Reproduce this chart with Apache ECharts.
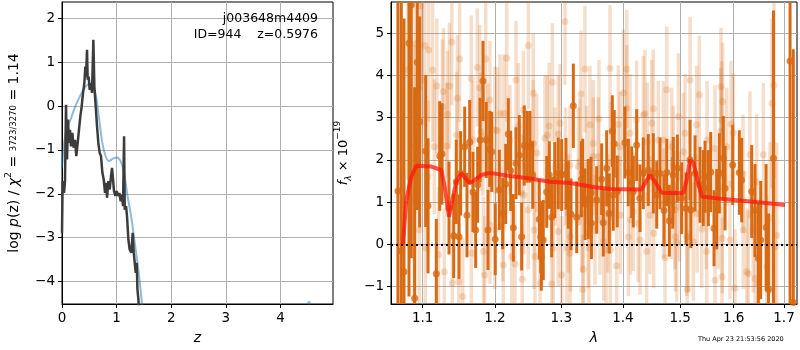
<!DOCTYPE html>
<html>
<head>
<meta charset="utf-8">
<script src="https://cdn.jsdelivr.net/npm/echarts@6/dist/echarts.min.js"></script>
<style>
  html, body { margin: 0; padding: 0; background: #fff; }
  #chart { width: 800px; height: 350px; }
</style>
</head>
<body>
<div id="chart"></div>
<script>
// ---- left panel: log p(z) ----
const zTicks = [0, 1, 2, 3, 4];
const logpTicks = [-4, -3, -2, -1, 0, 1, 2];
const pzZ = [0, 0.012, 0.037, 0.055, 0.073, 0.092, 0.11, 0.128, 0.147, 0.165,
  0.189, 0.214, 0.238, 0.262, 0.287, 0.311, 0.336, 0.36, 0.385, 0.409,
  0.427, 0.44, 0.458, 0.47, 0.488, 0.507, 0.525, 0.549, 0.574, 0.592,
  0.617, 0.641, 0.665, 0.69, 0.714, 0.739, 0.763, 0.788, 0.806, 0.824,
  0.849, 0.873, 0.897, 0.916, 0.934, 0.952, 0.977, 1.001, 1.026, 1.05,
  1.074, 1.099, 1.117, 1.136, 1.148, 1.172, 1.19, 1.215, 1.239, 1.27,
  1.294, 1.313, 1.331, 1.349, 1.368, 1.38, 1.398, 1.41];
const pzLog = [-2.89, -1.71, -1.98, -1.71, 0.03, -1.22, -0.31, -0.84, -0.54, -0.92,
  -0.61, -0.95, -0.77, -1.14, -0.84, -0.54, -0.23, -0.01, 0.30, 0.52,
  0.90, 0.67, 1.28, 0.60, 0.67, 0.37, 0.52, 0.30, 1.51, 0.45,
  -0.01, -0.46, -0.84, -1.07, -1.14, -1.52, -1.67, -1.98, -1.75, -2.09,
  -1.71, -1.90, -1.60, -1.41, -1.67, -1.94, -2.05, -1.94, -2.05, -1.98,
  -2.17, -2.02, -2.28, -0.69, -2.36, -2.28, -2.51, -3.04, -3.27, -3.34,
  -2.89, -3.34, -3.57, -3.80, -3.57, -4.17, -4.40, -4.63];
const smoothZ = [0.0, 0.04, 0.08, 0.16, 0.23, 0.30, 0.37, 0.43, 0.50, 0.56, 0.62, 0.68,
  0.74, 0.80, 0.86, 0.93, 1.00, 1.07, 1.13, 1.20, 1.27, 1.33, 1.40, 1.46, 1.49];
const smoothLog = [-1.40, -0.85, -0.55, -0.30, -0.05, 0.15, 0.32, 0.44, 0.50, 0.46, 0.25, -0.30,
  -0.85, -1.15, -1.25, -1.20, -1.17, -1.25, -1.50, -2.05, -2.55, -3.10, -3.75, -4.45, -4.75];
const tailZ = [4.52];
const tailLog = [-4.48];

// ---- right panel: spectrum ----
const lamTicks = [1.1, 1.2, 1.3, 1.4, 1.5, 1.6, 1.7];
const fluxTicks = [-1, 0, 1, 2, 3, 4, 5];
const darkLam = [1.0677, 1.0720, 1.0755, 1.0820, 1.0850, 1.0894, 1.0929, 1.0960, 1.1040, 1.1071,
  1.1182, 1.1228, 1.1259, 1.1354, 1.1419, 1.1454, 1.1492, 1.1515, 1.1571, 1.1603,
  1.1641, 1.1687, 1.1725, 1.1829, 1.1876, 1.1900, 1.1925, 1.1954, 1.2005, 1.2064,
  1.2113, 1.2157, 1.2195, 1.2230, 1.2269, 1.2309, 1.2358, 1.2393, 1.2432, 1.2477,
  1.2518, 1.2559, 1.2659, 1.2681, 1.2690, 1.2720, 1.2773, 1.2813, 1.2850, 1.2952,
  1.3073, 1.3109, 1.3152, 1.3189, 1.3243, 1.3339, 1.3376, 1.3429, 1.3473, 1.3565,
  1.3647, 1.3674, 1.3773, 1.3823, 1.3856, 1.3906, 1.4036, 1.4092, 1.4150, 1.4177,
  1.4235, 1.4292, 1.4349, 1.4436, 1.4523, 1.4583, 1.4641, 1.4712, 1.4760, 1.4806,
  1.4867, 1.4950, 1.5107, 1.5180, 1.5272, 1.5364, 1.5425, 1.5563, 1.5625, 1.5676,
  1.5725, 1.5801, 1.5981, 1.6109, 1.6155, 1.6351, 1.6416, 1.6482, 1.6529, 1.6637,
  1.6684, 1.6785, 1.7124, 1.7191,
  1.1753, 1.1787, 1.2897, 1.3005, 1.3318, 1.3480, 1.3730, 1.3839, 1.4877, 1.5028,
  1.5195, 1.5457, 1.5519, 1.5834];
const darkFlux = [1.26, -0.16, -0.65, 4.76, 5.67, -1.28, 4.31, 2.90, 2.21, 0.91,
  -0.70, 2.09, 2.14, 0.86, 0.20, 1.48, 0.18, 1.68, 2.31, 0.69,
  2.42, 1.24, 0.34, 3.87, 2.47, 0.34, 2.26, 2.19, 0.12, 1.29,
  0.73, 1.43, 2.61, 1.74, 0.39, 1.92, 2.11, 0.18, 2.34, 2.31,
  2.31, 1.64, 0.59, 0.17, -0.30, 0.10, 1.24, 1.64, 0.64, 1.68,
  1.67, 1.17, 0.71, 3.28, 0.64, 1.70, 0.95, 1.07, 1.22, 1.05,
  1.54, 0.51, 0.73, 2.68, 2.38, 1.25, 2.41, 1.70, 1.47, 1.25,
  2.35, 1.09, 1.68, 1.76, 1.68, 1.17, 1.68, 0.80, 1.70, 0.56,
  1.22, 1.80, 0.85, 2.00, 1.68, 1.41, 1.33, 1.71, 0.38, 0.83,
  1.68, 2.04, 1.88, 1.70, 1.52, 1.25, 0.80, -0.33, 0.10, 0.40,
  -1.07, 2.04, 4.34, -1.38,
  1.41, 2.47, 1.52, 1.64, 1.54, 0.50, 1.80, 1.17, 1.64, 1.09,
  0.81, 1.60, 1.33, 1.33];
const darkErr = [6, 6, 6, 6, 6, 5, 3.5, 2.5, 1.8, 1.6,
  1.3, 1.3, 1.2, 1.1, 1.0, 1.0, 1.0, 1.0, 0.95, 1.0,
  1.0, 0.95, 0.9, 0.95, 0.9, 0.95, 0.9, 0.95, 0.85, 0.95,
  0.85, 0.95, 0.85, 0.95, 0.8, 0.85, 0.95, 0.8, 0.95, 0.85,
  0.85, 0.8, 0.95, 0.85, 0.8, 0.95, 0.85, 0.8, 0.95, 0.85,
  0.85, 0.8, 0.85, 1.0, 0.85, 0.8, 0.85, 0.95, 0.85, 0.8,
  0.85, 0.8, 0.95, 0.85, 0.8, 0.85, 0.85, 0.8, 0.85, 0.85,
  0.85, 0.8, 0.85, 0.85, 0.95, 0.8, 0.85, 0.85, 0.8, 0.85,
  0.85, 0.8, 0.85, 0.95, 0.9, 0.9, 0.9, 0.95, 0.9, 0.95,
  0.95, 1.0, 0.95, 1.0, 1.0, 1.1, 1.1, 1.3, 1.4, 1.5,
  1.8, 3.5, 6, 6,
  0.9, 1.0, 0.9, 0.85, 0.9, 0.85, 0.9, 0.85, 0.9, 0.85,
  0.9, 0.85, 0.9, 1.0];
const lightLam = [1.0807, 1.0890, 1.0894, 1.0903, 1.0955, 1.0970, 1.0992, 1.1027, 1.1035, 1.1071,
  1.1079, 1.1132, 1.1155, 1.1189, 1.1212, 1.1265, 1.1279, 1.1290, 1.1324, 1.1333,
  1.1360, 1.1393, 1.1400, 1.1460, 1.1470, 1.1489, 1.1500, 1.1543, 1.1663, 1.1687,
  1.1748, 1.1782, 1.1800, 1.1854, 1.1868, 1.1900, 1.1929, 1.2001, 1.2034, 1.2074,
  1.2122, 1.2171, 1.2220, 1.2294, 1.2309, 1.2343, 1.2393, 1.2402, 1.2418, 1.2493,
  1.2568, 1.2580, 1.2670, 1.2781, 1.2810, 1.2849, 1.2860, 1.2874, 1.2901, 1.2952,
  1.3005, 1.3057, 1.3065, 1.3083, 1.3109, 1.3136, 1.3269, 1.3311, 1.3339, 1.3349,
  1.3375, 1.3456, 1.3509, 1.3603, 1.3619, 1.3680, 1.3720, 1.3750, 1.3785, 1.3800,
  1.3896, 1.3924, 1.3952, 1.3960, 1.4010, 1.4066, 1.4093, 1.4121, 1.4130, 1.4234,
  1.4260, 1.4377, 1.4407, 1.4418, 1.4523, 1.4530, 1.4610, 1.4729, 1.4759, 1.4840,
  1.4877, 1.4938, 1.4990, 1.5057, 1.5120, 1.5130, 1.5180, 1.5241, 1.5302, 1.5351,
  1.5395, 1.5488, 1.5495, 1.5644, 1.5751, 1.5757, 1.5776, 1.5788, 1.5929, 1.5949,
  1.5993, 1.6025, 1.6180, 1.6185, 1.6253, 1.6284, 1.6317, 1.6382, 1.6418, 1.6449,
  1.6481, 1.6582, 1.6649, 1.6715, 1.6755, 1.6796, 1.6816, 1.6851,
  1.1665, 1.1829, 1.1835, 1.1929, 1.2001, 1.2115, 1.2130, 1.2245, 1.2425, 1.2492,
  1.2568, 1.2594, 1.2620, 1.2746, 1.2952, 1.2979, 1.3136, 1.3145, 1.3295, 1.3322,
  1.3403, 1.3429, 1.3440, 1.3510, 1.3537, 1.3591, 1.3790, 1.4065, 1.4178, 1.4292,
  1.4349, 1.4465, 1.4495, 1.4700, 1.4705, 1.4849, 1.4908, 1.4915, 1.4968, 1.5089,
  1.5150, 1.5310, 1.5480, 1.5644, 1.5707, 1.5770, 1.5780, 1.5866];
const lightFlux = [4.13, 1.07, 2.31, 4.75, 0.34, 5.65, 3.89, 4.71, -0.09, 1.60,
  4.60, 4.13, 2.31, 3.75, -0.25, 3.25, 3.62, -0.65, 2.33, 3.08,
  3.75, 4.79, -0.92, 2.59, 3.46, -0.89, 4.39, -1.24, 3.92, 2.47,
  4.19, 3.70, 2.67, -0.73, 4.39, 2.51, 3.42, 0.34, 2.69, 3.10,
  -0.49, 4.41, 2.47, -0.47, 3.89, 2.79, 1.21, -0.83, 3.18, 4.71,
  3.58, 0.34, -0.92, 2.59, 2.80, -0.94, 3.84, -0.09, 1.84, 2.61,
  -0.73, 5.28, 1.84, -0.08, 0.73, -0.21, 1.84, 3.56, -1.07, -0.59,
  4.15, 2.83, 2.08, 2.97, 0.58, 0.06, -0.13, 0.73, 4.17, 1.96,
  -0.51, 2.84, 2.31, 0.69, 3.59, 4.15, 0.17, 2.63, 0.58, 2.95,
  0.50, 3.10, -0.17, 2.43, 3.21, 0.26, 2.47, -0.32, 3.66, 1.05,
  1.88, 0.04, 0.89, 2.19, 0.17, -1.07, 3.89, 0.06, 2.83, 3.54,
  0.36, -0.17, 2.47, -0.85, 2.68, 3.73, -0.77, 3.38, 0.10, 2.85,
  2.64, -1.04, 1.67, 0.34, -0.65, -0.70, 2.12, 0.36, -0.81, 1.48,
  -0.94, 2.12, -0.53, 0.62, 3.34, 3.77, -0.06, 0.21,
  -0.21, 2.55, -0.17, 0.46, 2.71, 0.42, 3.10, -0.29, 1.17, 0.81,
  2.39, -0.29, 2.16, 2.51, 0.30, 2.87, 1.88, 0.18, 1.96, 0.73,
  1.88, 0.26, -0.09, 2.39, 0.34, 2.08, -0.13, 3.22, 0.77, 0.10,
  3.06, 0.69, 2.87, 2.47, 0.97, 2.31, 0.81, 0.18, 3.02, 2.63,
  0.18, 0.73, 0.81, 2.27, 0.81, 2.94, 0.14, 2.31];
const lightErr = [2.6, 2.6, 2.4, 2.2, 2.2, 2.0, 2.0, 1.9, 1.9, 1.8,
  1.7, 1.7, 1.6, 1.6, 1.6, 1.6, 1.5, 1.5, 1.5, 1.5,
  1.5, 1.5, 1.5, 1.5, 1.5, 1.4, 1.5, 1.4, 1.5, 1.4,
  1.4, 1.5, 1.4, 1.4, 1.5, 1.3, 1.4, 1.4, 1.5, 1.4,
  1.4, 1.5, 1.3, 1.4, 1.4, 1.5, 1.4, 1.3, 1.4, 1.5,
  1.4, 1.4, 1.3, 1.4, 1.5, 1.4, 1.4, 1.3, 1.4, 1.4,
  1.4, 1.5, 1.4, 1.3, 1.4, 1.4, 1.4, 1.5, 1.3, 1.4,
  1.5, 1.4, 1.4, 1.4, 1.3, 1.4, 1.4, 1.4, 1.5, 1.4,
  1.4, 1.4, 1.3, 1.4, 1.5, 1.4, 1.4, 1.4, 1.3, 1.4,
  1.4, 1.5, 1.4, 1.4, 1.4, 1.3, 1.4, 1.4, 1.5, 1.4,
  1.4, 1.4, 1.3, 1.4, 1.4, 1.4, 1.5, 1.4, 1.4, 1.4,
  1.4, 1.4, 1.4, 1.4, 1.5, 1.4, 1.4, 1.4, 1.4, 1.5,
  1.4, 1.4, 1.4, 1.4, 1.5, 1.5, 1.5, 1.5, 1.5, 1.6,
  1.6, 1.7, 1.7, 1.8, 2.0, 2.2, 2.0, 2.2,
  1.5, 1.4, 1.3, 1.4, 1.5, 1.3, 1.4, 1.3, 1.4, 1.4,
  1.5, 1.3, 1.4, 1.5, 1.3, 1.4, 1.4, 1.3, 1.5, 1.4,
  1.4, 1.3, 1.4, 1.5, 1.3, 1.4, 1.3, 1.5, 1.4, 1.3,
  1.4, 1.4, 1.5, 1.4, 1.3, 1.4, 1.4, 1.3, 1.5, 1.4,
  1.3, 1.4, 1.4, 1.5, 1.4, 1.4, 1.3, 1.4];
const modelLam = [1.0742, 1.0785, 1.0850, 1.0916, 1.1115, 1.1249, 1.1295, 1.1354, 1.1409, 1.1454,
  1.1524, 1.1641, 1.1711, 1.1805, 1.1900, 1.1972, 1.2220, 1.2518, 1.2823, 1.3136,
  1.3538, 1.3785, 1.4321, 1.4408, 1.4465, 1.4553, 1.4671, 1.5058, 1.5120, 1.5179,
  1.5240, 1.5395, 1.5801, 1.6382, 1.7020];
const modelFlux = [0.0, 1.05, 1.60, 1.86, 1.84, 1.76, 1.37, 0.65, 1.13, 1.48,
  1.68, 1.45, 1.52, 1.64, 1.68, 1.68, 1.62, 1.56, 1.48, 1.45,
  1.35, 1.31, 1.30, 1.52, 1.64, 1.48, 1.22, 1.21, 1.52, 2.0,
  1.92, 1.13, 1.07, 1.01, 0.93];

const FONT = "DejaVu Sans";
const ORANGE = "rgb(216,106,20)";
const ln = Math.log;
const minus = v => String(v).replace("-", "\u2212");

// the wavelength axis is logarithmic: plot ln(lambda)
const darkBars = darkLam.map((l, i) => [ln(l), darkFlux[i] - darkErr[i], darkFlux[i] + darkErr[i]]);
const darkPts = darkLam.map((l, i) => [ln(l), darkFlux[i]]);
const lightBars = lightLam.map((l, i) => [ln(l), lightFlux[i] - lightErr[i], lightFlux[i] + lightErr[i]]);
const lightPts = lightLam.map((l, i) => [ln(l), lightFlux[i]]);
const model = modelLam.map((l, i) => [ln(l), modelFlux[i]]);

function errBar(color, w) {
  return function (params, api) {
    const top = api.coord([api.value(0), api.value(2)]);
    const bot = api.coord([api.value(0), api.value(1)]);
    return {
      type: "rect",
      shape: { x: top[0] - w / 2, y: top[1], width: w, height: bot[1] - top[1] },
      style: { fill: color }
    };
  };
}

const gridLine = { show: true, lineStyle: { color: "#b0b0b0", width: 1 } };
const tickStyle = { show: true, length: 4, lineStyle: { color: "#000" } };
const labelStyle = { color: "#000", fontSize: 13.5, fontFamily: FONT };

const chart = echarts.init(document.getElementById("chart"), null, { renderer: "canvas" });
chart.setOption({
  animation: false,
  textStyle: { fontFamily: FONT },
  title: [
    { text: "j003648m4409", right: 482, top: 12, padding: 0,
      textStyle: { fontSize: 12.5, fontWeight: "normal", color: "#000", fontFamily: FONT } },
    { text: "ID=944    z=0.5976", right: 482, top: 28, padding: 0,
      textStyle: { fontSize: 12.5, fontWeight: "normal", color: "#000", fontFamily: FONT } },
    { text: "Thu Apr 23 21:53:56 2020", left: 698, top: 336, padding: 0,
      textStyle: { fontSize: 6.5, fontWeight: "normal", color: "#000", fontFamily: FONT } }
  ],
  grid: [
    { left: 62, top: 2, width: 271, height: 302, show: true, borderColor: "#000", borderWidth: 1 },
    { left: 391, top: 2, width: 406, height: 302, show: true, borderColor: "#000", borderWidth: 1 }
  ],
  xAxis: [
    {
      gridIndex: 0, type: "value", min: 0, max: 4.96,
      name: "z", nameLocation: "middle", nameGap: 27,
      nameTextStyle: { fontSize: 14, fontStyle: "italic", color: "#000", fontFamily: FONT },
      axisLine: { onZero: false, lineStyle: { color: "#000" } },
      axisTick: Object.assign({ customValues: zTicks }, tickStyle),
      axisLabel: Object.assign({ customValues: zTicks, margin: 7 }, labelStyle),
      splitLine: gridLine
    },
    {
      gridIndex: 1, type: "value", min: ln(1.0588), max: ln(1.7268),
      name: "\u03bb", nameLocation: "middle", nameGap: 27,
      nameTextStyle: { fontSize: 14, fontStyle: "italic", color: "#000", fontFamily: FONT },
      axisLine: { onZero: false, lineStyle: { color: "#000" } },
      axisTick: Object.assign({ customValues: lamTicks.map(ln) }, tickStyle),
      axisLabel: Object.assign({ customValues: lamTicks.map(ln), margin: 7,
        formatter: v => Math.exp(v).toFixed(1) }, labelStyle),
      splitLine: gridLine
    }
  ],
  yAxis: [
    {
      gridIndex: 0, type: "value", min: -4.51, max: 2.37,
      name: "log {it|p}(z) / {it|\u03c7}{sup|2} = {fr|3723/3270} = 1.14",
      nameLocation: "middle", nameGap: 38,
      nameTextStyle: {
        fontSize: 14, color: "#000", fontFamily: FONT, lineHeight: 20,
        rich: {
          it: { fontSize: 14, fontStyle: "italic", fontFamily: FONT, color: "#000" },
          sup: { fontSize: 9.5, verticalAlign: "top", fontFamily: FONT, color: "#000" },
          fr: { fontSize: 8.5, fontFamily: FONT, color: "#000" }
        }
      },
      axisLine: { onZero: false, lineStyle: { color: "#000" } },
      axisTick: Object.assign({ customValues: logpTicks }, tickStyle),
      axisLabel: Object.assign({ customValues: logpTicks, margin: 7, formatter: minus }, labelStyle),
      splitLine: gridLine
    },
    {
      gridIndex: 1, type: "value", min: -1.415, max: 5.74,
      name: "{it|f}{sub|\u03bb} \u00d7 10{sup|\u221219}",
      nameLocation: "middle", nameGap: 30,
      nameTextStyle: {
        fontSize: 13, color: "#000", fontFamily: FONT, lineHeight: 20,
        rich: {
          it: { fontSize: 13, fontStyle: "italic", fontFamily: FONT, color: "#000" },
          sub: { fontSize: 9, fontStyle: "italic", verticalAlign: "bottom", fontFamily: FONT, color: "#000" },
          sup: { fontSize: 9, verticalAlign: "top", fontFamily: FONT, color: "#000" }
        }
      },
      axisLine: { onZero: false, lineStyle: { color: "#000" } },
      axisTick: Object.assign({ customValues: fluxTicks }, tickStyle),
      axisLabel: Object.assign({ customValues: fluxTicks, margin: 7, formatter: minus }, labelStyle),
      splitLine: gridLine
    }
  ],
  series: [
    {
      type: "line", xAxisIndex: 0, yAxisIndex: 0, smooth: 0.4, showSymbol: false, z: 3,
      data: smoothZ.map((z, i) => [z, smoothLog[i]]),
      lineStyle: { color: "rgba(31,119,180,0.5)", width: 2 }
    },
    {
      type: "line", xAxisIndex: 0, yAxisIndex: 0, showSymbol: false, z: 4,
      data: pzZ.map((z, i) => [z, pzLog[i]]),
      lineStyle: { color: "#3c3c3c", width: 2.5 }
    },
    {
      type: "scatter", xAxisIndex: 0, yAxisIndex: 0, symbolSize: 4, z: 3,
      data: tailZ.map((z, i) => [z, tailLog[i]]),
      itemStyle: { color: "rgba(31,119,180,0.5)" }
    },
    {
      type: "custom", xAxisIndex: 1, yAxisIndex: 1, clip: true, z: 2,
      renderItem: errBar("rgba(216,106,20,0.22)", 3.5),
      encode: { x: 0, y: [1, 2] }, data: lightBars
    },
    {
      type: "scatter", xAxisIndex: 1, yAxisIndex: 1, symbolSize: 7, z: 2,
      data: lightPts, itemStyle: { color: "rgba(216,106,20,0.28)" }
    },
    {
      type: "custom", xAxisIndex: 1, yAxisIndex: 1, clip: true, z: 3,
      renderItem: errBar(ORANGE, 3),
      encode: { x: 0, y: [1, 2] }, data: darkBars
    },
    {
      type: "scatter", xAxisIndex: 1, yAxisIndex: 1, symbolSize: 7, z: 3,
      data: darkPts, itemStyle: { color: ORANGE }
    },
    {
      type: "line", xAxisIndex: 1, yAxisIndex: 1, showSymbol: false, z: 4,
      data: model, lineStyle: { color: "rgba(255,20,10,0.72)", width: 4 },
      markLine: {
        silent: true, symbol: "none", label: { show: false },
        lineStyle: { color: "#000", type: [2, 3], width: 2 },
        data: [{ yAxis: 0 }]
      }
    }
  ]
});
</script>
</body>
</html>
